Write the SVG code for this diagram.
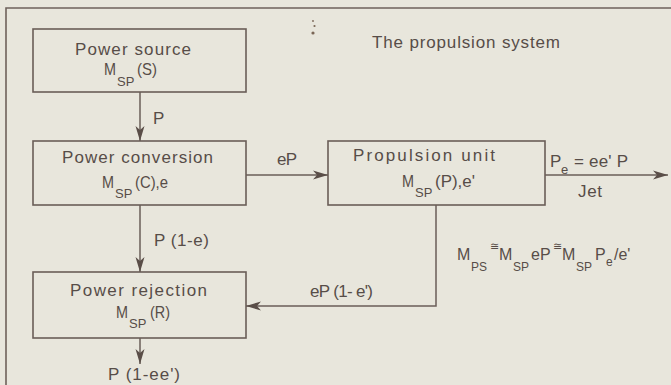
<svg xmlns="http://www.w3.org/2000/svg" width="671" height="385" viewBox="0 0 671 385">
  <defs>
    <style>
      .bg { fill: #e8e6dc; }
      .frame { fill: none; stroke: #6e625b; stroke-width: 1.6; }
      .box { fill: none; stroke: #6a5e58; stroke-width: 1.6; }
      .wire { fill: none; stroke: #6a5e58; stroke-width: 1.5; }
      text { font-family: "Liberation Sans", Arial, sans-serif; font-size: 17px; fill: #574d48; }
      .sub { font-size: 13px; }
      .eq { font-size: 16px; }
      .eqsub { font-size: 12px; }
      .rel { font-size: 11px; }
      .title { font-size: 17px; }
    </style>
    <marker id="arrow" markerUnits="userSpaceOnUse" markerWidth="16" markerHeight="12" viewBox="-15 -6 16 12" refX="0" refY="0" orient="auto">
      <path d="M0,0 L-15,-4.5 L-11,0 L-15,4.5 Z" fill="#5a4e48"/>
    </marker>
  </defs>

  <rect class="bg" x="0" y="0" width="671" height="385"/>

  <!-- outer frame, open to the right and bottom -->
  <path class="frame" d="M6,385 V8 H671"/>
  <!-- ink specks -->
  <g fill="#7a6656">
    <circle cx="313" cy="21" r="0.9"/>
    <circle cx="314.5" cy="26" r="1.1"/>
    <circle cx="313" cy="33" r="1.6"/>
  </g>

  <text class="title" x="372" y="48" textLength="188" lengthAdjust="spacing">The propulsion system</text>

  <g id="power-source">
    <rect class="box" x="33" y="29" width="213" height="63"/>
    <text x="75" y="55" textLength="116" lengthAdjust="spacing">Power source</text>
    <text x="104" y="75" textLength="12" lengthAdjust="spacingAndGlyphs">M</text>
    <text class="sub" x="117" y="86">SP</text>
    <text x="137" y="75" textLength="20" lengthAdjust="spacingAndGlyphs">(S)</text>
  </g>

  <g id="power-conversion">
    <rect class="box" x="33" y="141" width="213" height="64"/>
    <text x="62" y="163" textLength="151" lengthAdjust="spacing">Power conversion</text>
    <text x="102" y="188" textLength="12" lengthAdjust="spacingAndGlyphs">M</text>
    <text class="sub" x="115" y="198">SP</text>
    <text x="135" y="188" textLength="33" lengthAdjust="spacingAndGlyphs">(C),e</text>
  </g>

  <g id="power-rejection">
    <rect class="box" x="33" y="272" width="213" height="66"/>
    <text x="70" y="296" textLength="137" lengthAdjust="spacing">Power rejection</text>
    <text x="116" y="318" textLength="12" lengthAdjust="spacingAndGlyphs">M</text>
    <text class="sub" x="129" y="328">SP</text>
    <text x="150" y="318" textLength="20" lengthAdjust="spacingAndGlyphs">(R)</text>
  </g>

  <g id="propulsion-unit">
    <rect class="box" x="328" y="141" width="217" height="64"/>
    <text x="353" y="161" textLength="142" lengthAdjust="spacing">Propulsion unit</text>
    <text x="402" y="187" textLength="12" lengthAdjust="spacingAndGlyphs">M</text>
    <text class="sub" x="415" y="197">SP</text>
    <text x="435" y="187" textLength="40" lengthAdjust="spacingAndGlyphs">(P),e'</text>
  </g>

  <g id="connectors">
    <line class="wire" x1="140" y1="92" x2="140" y2="141" marker-end="url(#arrow)"/>
    <line class="wire" x1="140" y1="205" x2="140" y2="272" marker-end="url(#arrow)"/>
    <line class="wire" x1="140" y1="338" x2="140" y2="364" marker-end="url(#arrow)"/>
    <line class="wire" x1="246" y1="175" x2="328" y2="175" marker-end="url(#arrow)"/>
    <line class="wire" x1="545" y1="175" x2="668" y2="175" marker-end="url(#arrow)"/>
    <path class="wire" d="M436,205 V306 H246" marker-end="url(#arrow)"/>

    <text x="153" y="124">P</text>
    <text x="154" y="246" textLength="55" lengthAdjust="spacing">P (1-e)</text>
    <text x="108" y="380" textLength="72" lengthAdjust="spacing">P (1-ee')</text>
    <text x="277" y="165" textLength="20" lengthAdjust="spacing">eP</text>
    <text x="310" y="297" textLength="63" lengthAdjust="spacing">eP (1- e')</text>

    <text x="550" y="167">P</text>
    <text class="sub" x="561" y="174">e</text>
    <text x="574" y="167" textLength="54" lengthAdjust="spacing">= ee' P</text>
    <text x="578" y="197" textLength="24" lengthAdjust="spacing">Jet</text>
  </g>

  <!-- specific-mass relation -->
  <g id="mass-relation">
    <text class="eq" x="457" y="260">M</text>
    <text class="eqsub" x="471" y="271">PS</text>
    <text class="rel" x="490" y="250">≅</text>
    <text class="eq" x="499" y="260">M</text>
    <text class="eqsub" x="513" y="271">SP</text>
    <text class="eq" x="531" y="260">eP</text>
    <text class="rel" x="553" y="250">≅</text>
    <text class="eq" x="562" y="260">M</text>
    <text class="eqsub" x="576" y="271">SP</text>
    <text class="eq" x="595" y="260">P</text>
    <text class="eqsub" x="606" y="266">e</text>
    <text class="eq" x="614" y="260">/e'</text>
  </g>
</svg>
